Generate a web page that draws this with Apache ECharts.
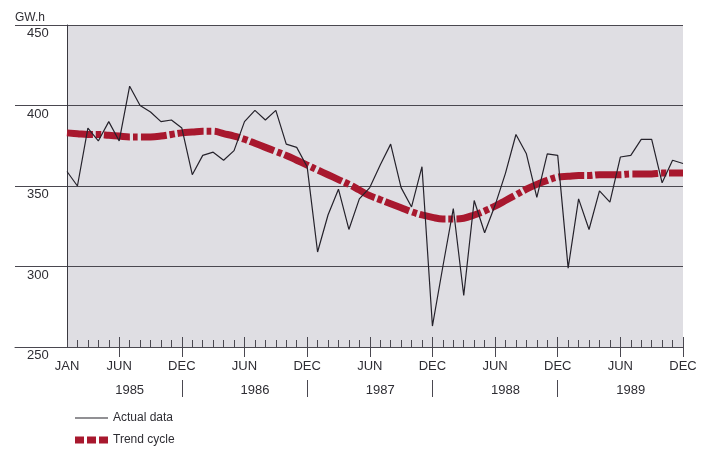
<!DOCTYPE html>
<html>
<head>
<meta charset="utf-8">
<script src="https://cdn.jsdelivr.net/npm/echarts@6/dist/echarts.min.js"></script>
<style>
  html, body { margin: 0; padding: 0; background: #ffffff; }
  #chart { width: 705px; height: 449px; }
</style>
</head>
<body>
<div id="chart"></div>
<script>
// ---- data ----
const months = ['JAN','FEB','MAR','APR','MAY','JUN','JUL','AUG','SEP','OCT','NOV','DEC'];
const years = ['1985','1986','1987','1988','1989'];
const unitLabel = 'GW.h';
const yMin = 250, yMax = 450, yStep = 50;
const seriesNames = ['Actual data', 'Trend cycle'];

const actual1985 = [359, 350, 386, 378, 390, 378, 412, 400, 396, 390, 391, 386];
const actual1986 = [357, 369, 371, 366, 372, 390, 397, 391, 397, 376, 374, 362];
const actual1987 = [309, 332, 348, 323, 342, 349, 363, 376, 349, 337, 362, 263];
const actual1988 = [300, 336, 282, 341, 321, 338, 358, 382, 370, 343, 370, 369];
const actual1989 = [299, 342, 323, 347, 340, 368, 369, 379, 379, 352, 366, 364];

const trend1985 = [383, 382.5, 382, 382, 381.5, 381, 380.5, 380.5, 380.5, 381, 382, 383];
const trend1986 = [383.5, 384, 384, 382.5, 381, 379, 376.5, 374, 371.5, 369, 366, 363];
const trend1987 = [360, 357, 354, 351, 347.5, 344, 341.5, 339, 336.5, 334, 332, 330.5];
const trend1988 = [329.5, 329.5, 330, 332, 334.5, 337.5, 341, 344.5, 348, 351, 353.5, 355.5];
const trend1989 = [356, 356.5, 356.5, 357, 357, 357, 357.5, 357.5, 357.5, 358, 358, 358];

const categories = [];
years.forEach(y => months.forEach(m => categories.push(y + '-' + m)));
const actualData = [].concat(actual1985, actual1986, actual1987, actual1988, actual1989);
const trendData = [].concat(trend1985, trend1986, trend1987, trend1988, trend1989);

// ---- chart ----
const FONT = '"Liberation Sans", Arial, Helvetica, sans-serif';
const TXT = '#2e2d33';
const LINE = '#4a4850';
const RED = '#a8182e';
const monthOf = v => v.split('-')[1];
const yearOf = v => v.split('-')[0];
const isMajor = (i, v) => monthOf(v) === 'JUN' || monthOf(v) === 'DEC';

const chart = echarts.init(document.getElementById('chart'), null, { renderer: 'canvas' });
chart.setOption({
  animation: false,
  backgroundColor: '#ffffff',
  title: {
    text: unitLabel, left: 15, top: 12, padding: 0,
    textStyle: { fontFamily: FONT, fontSize: 12, fontWeight: 'normal', color: TXT }
  },
  legend: {
    orient: 'vertical', left: 75, top: 412, padding: 0,
    itemWidth: 33, itemHeight: 9, itemGap: 10, selectedMode: false,
    textStyle: { fontFamily: FONT, fontSize: 12, color: TXT },
    data: [
      { name: seriesNames[0], icon: 'path://M0,0h33v1.2h-33z', itemStyle: { color: '#25222b' } },
      { name: seriesNames[1], icon: 'path://M0,0h9v7h-9z M12,0h9v7h-9z M24,0h9v7h-9z', itemStyle: { color: RED } }
    ]
  },
  grid: [
    { left: 67, right: 22, top: 25, bottom: 102, show: true, backgroundColor: '#dfdee3', borderWidth: 0 },
    { left: 15, width: 52, top: 25, bottom: 102 }
  ],
  xAxis: [
    { // main month axis: minor ticks + month labels
      gridIndex: 0, position: 'bottom', type: 'category', data: categories, boundaryGap: false,
      axisLine: { show: true, onZero: false, lineStyle: { color: LINE, width: 1 } },
      axisTick: { show: true, inside: true, length: 7, interval: 0, lineStyle: { color: LINE, width: 1 } },
      axisLabel: {
        show: true, margin: 13, fontFamily: FONT, fontSize: 13, color: TXT,
        interval: (i, v) => i === 0 || isMajor(i, v),
        formatter: v => monthOf(v)
      },
      splitLine: { show: false }
    },
    { // major ticks above axis
      gridIndex: 0, position: 'bottom', type: 'category', data: categories, boundaryGap: false,
      axisLine: { show: false, onZero: false },
      axisTick: { show: true, inside: true, length: 10, interval: isMajor, lineStyle: { color: LINE, width: 1 } },
      axisLabel: { show: false }, splitLine: { show: false }
    },
    { // major ticks below axis
      gridIndex: 0, position: 'bottom', type: 'category', data: categories, boundaryGap: false,
      axisLine: { show: false, onZero: false },
      axisTick: { show: true, inside: false, length: 10, interval: isMajor, lineStyle: { color: LINE, width: 1 } },
      axisLabel: { show: false }, splitLine: { show: false }
    },
    { // year labels and separators
      gridIndex: 0, position: 'bottom', type: 'category', data: categories, boundaryGap: false, offset: 50,
      axisLine: { show: false, onZero: false },
      axisTick: {
        show: true, inside: true, length: 17,
        interval: (i, v) => monthOf(v) === 'DEC' && i < categories.length - 1,
        lineStyle: { color: LINE, width: 1 }
      },
      axisLabel: {
        show: true, inside: true, margin: 0, fontFamily: FONT, fontSize: 13, color: TXT,
        interval: (i, v) => monthOf(v) === 'JUL',
        formatter: v => yearOf(v)
      },
      splitLine: { show: false }
    },
    { // extension of baseline to the left
      gridIndex: 1, position: 'bottom', type: 'value', min: 0, max: 1,
      axisLine: { show: true, onZero: false, lineStyle: { color: LINE, width: 1 } },
      axisTick: { show: false }, axisLabel: { show: false }, splitLine: { show: false }
    }
  ],
  yAxis: [
    {
      gridIndex: 0, position: 'left', type: 'value', min: yMin, max: yMax, interval: yStep,
      axisLine: { show: true, onZero: false, lineStyle: { color: '#3a3940', width: 1 } },
      axisTick: { show: false }, axisLabel: { show: false },
      splitLine: { show: true, lineStyle: { color: LINE, width: 1 } }
    },
    {
      gridIndex: 1, position: 'left', type: 'value', min: yMin, max: yMax, interval: yStep,
      axisLine: { show: false, onZero: false }, axisTick: { show: false },
      axisLabel: {
        show: true, inside: true, margin: 12, verticalAlign: 'top', padding: [2, 0, 0, 0],
        fontFamily: FONT, fontSize: 13, color: TXT
      },
      splitLine: { show: true, lineStyle: { color: LINE, width: 1 } }
    }
  ],
  series: [
    {
      name: seriesNames[1], type: 'line', xAxisIndex: 0, yAxisIndex: 0,
      data: trendData, symbol: 'none', smooth: 0.4, z: 2,
      itemStyle: { color: RED },
      lineStyle: { color: RED, width: 7, type: [26, 3, 5, 3], cap: 'butt' }
    },
    {
      name: seriesNames[0], type: 'line', xAxisIndex: 0, yAxisIndex: 0,
      data: actualData, symbol: 'none', z: 3,
      itemStyle: { color: '#25222b' },
      lineStyle: { color: '#25222b', width: 1.2 }
    }
  ]
});
</script>
</body>
</html>
